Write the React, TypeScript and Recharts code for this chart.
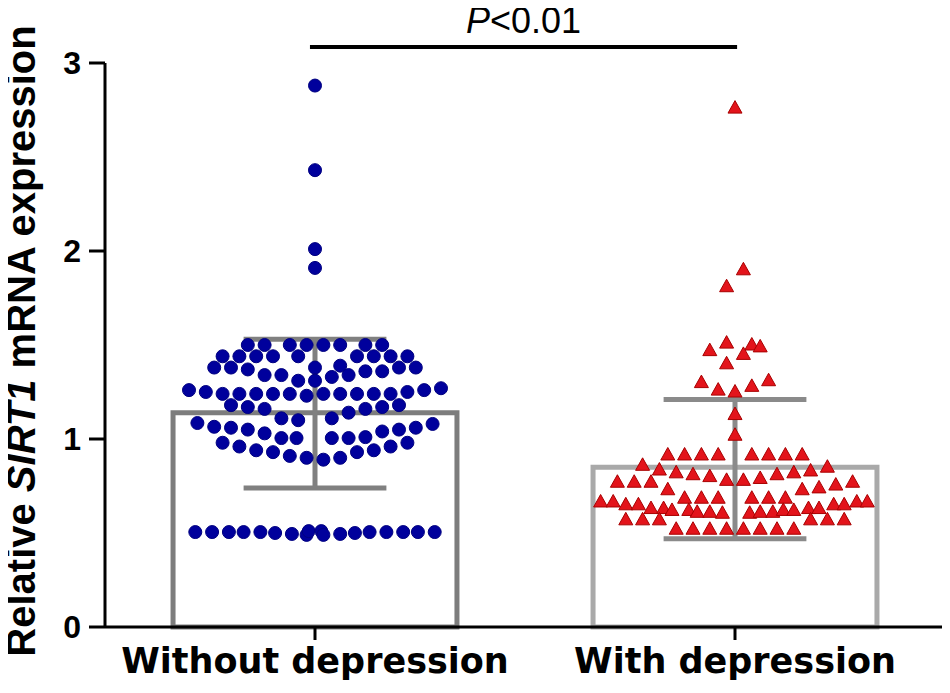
import React from "react";
import {
  ScatterChart,
  Scatter,
  XAxis,
  YAxis,
  ReferenceArea,
  ReferenceLine,
} from "recharts";

// groups on the x axis (centred at 0.5 and 1.5 of a 0..2 axis)
const categories = ["Without depression", "With depression"];
const barMeans = [1.14, 0.85];
const errLow = [0.74, 0.47];
const errHigh = [1.53, 1.21];
const yTicks = [0, 1, 2, 3];
const pText = "P<0.01";

// [horizontal jitter in axis units, relative expression]
const withoutPoints: [number, number][] = [
  [0, 2.88], [0, 2.43], [0, 2.01], [0, 1.91],
  [-0.16, 1.5], [-0.12, 1.5], [-0.06, 1.5], [-0.02, 1.5], [0.02, 1.5], [0.06, 1.5], [0.12, 1.5], [0.16, 1.5],
  [-0.22, 1.44], [-0.18, 1.44], [-0.14, 1.44], [-0.1, 1.44], [-0.04, 1.44], [0.1, 1.44], [0.14, 1.44], [0.18, 1.44], [0.22, 1.44],
  [-0.24, 1.38], [-0.2, 1.38], [-0.16, 1.37], [-0.12, 1.34], [-0.08, 1.34], [-0.04, 1.31], [0, 1.38], [0, 1.31],
  [0.04, 1.33], [0.06, 1.39], [0.08, 1.34], [0.12, 1.36], [0.16, 1.36], [0.2, 1.38], [0.24, 1.38],
  [-0.3, 1.26], [-0.26, 1.25], [-0.22, 1.24], [-0.18, 1.24], [-0.14, 1.24], [-0.1, 1.24], [-0.06, 1.24], [-0.02, 1.23],
  [0.02, 1.24], [0.06, 1.24], [0.1, 1.24], [0.14, 1.24], [0.18, 1.24], [0.22, 1.25], [0.26, 1.26], [0.3, 1.27],
  [-0.2, 1.18], [-0.16, 1.17], [-0.12, 1.16], [-0.08, 1.11], [-0.04, 1.1], [0.04, 1.11], [0.08, 1.14], [0.12, 1.16], [0.16, 1.17], [0.2, 1.18],
  [-0.28, 1.085], [-0.24, 1.065], [-0.2, 1.06], [-0.16, 1.05], [-0.12, 1.03], [-0.08, 1.005], [-0.044, 1.005],
  [0.04, 1.005], [0.08, 1.005], [0.12, 1.01], [0.16, 1.04], [0.2, 1.05], [0.24, 1.06], [0.28, 1.08],
  [-0.22, 0.98], [-0.18, 0.96], [-0.14, 0.94], [-0.1, 0.93], [-0.06, 0.91], [-0.02, 0.9],
  [0.02, 0.89], [0.06, 0.9], [0.1, 0.93], [0.14, 0.94], [0.18, 0.96], [0.22, 0.98],
  [-0.285, 0.505], [-0.245, 0.505], [-0.205, 0.505], [-0.17, 0.505], [-0.13, 0.505], [-0.095, 0.5], [-0.055, 0.495], [-0.02, 0.49],
  [-0.015, 0.51], [0.015, 0.51], [0.02, 0.49], [0.06, 0.495], [0.095, 0.5], [0.13, 0.505], [0.17, 0.505], [0.21, 0.505], [0.245, 0.505], [0.285, 0.505],
];

const withPoints: [number, number][] = [
  [0, 2.76], [0.02, 1.9], [-0.02, 1.81],
  [-0.06, 1.47], [-0.02, 1.51], [0.04, 1.5], [0.06, 1.49], [0.02, 1.45], [-0.02, 1.4],
  [-0.08, 1.3], [0.08, 1.31], [-0.04, 1.26], [0, 1.25], [0.04, 1.28], [0, 1.13], [0, 1.02],
  [-0.16, 0.915], [-0.12, 0.915], [-0.08, 0.915], [-0.04, 0.915], [0.04, 0.915], [0.08, 0.915], [0.12, 0.915], [0.16, 0.915],
  [-0.22, 0.86], [-0.18, 0.835], [-0.14, 0.82], [-0.1, 0.81], [-0.06, 0.8], [-0.02, 0.78],
  [0.02, 0.78], [0.06, 0.79], [0.1, 0.81], [0.14, 0.82], [0.18, 0.83], [0.22, 0.85],
  [-0.28, 0.77], [-0.24, 0.77], [-0.2, 0.77], [-0.16, 0.73], [0.16, 0.73], [0.2, 0.74], [0.24, 0.755], [0.28, 0.77],
  [-0.12, 0.685], [-0.08, 0.685], [-0.04, 0.685], [0.04, 0.685], [0.08, 0.685], [0.12, 0.685],
  [-0.32, 0.665], [-0.29, 0.665], [-0.26, 0.65], [-0.23, 0.65], [-0.2, 0.63], [-0.17, 0.63], [-0.15, 0.62], [-0.11, 0.62], [-0.09, 0.61], [-0.06, 0.61], [-0.03, 0.605],
  [0.035, 0.605], [0.06, 0.61], [0.09, 0.61], [0.115, 0.62], [0.14, 0.62], [0.175, 0.63], [0.2, 0.63], [0.235, 0.65], [0.26, 0.65], [0.29, 0.665], [0.315, 0.665],
  [-0.26, 0.57], [-0.22, 0.57], [-0.18, 0.57], [0.18, 0.57], [0.22, 0.57], [0.26, 0.57],
  [-0.14, 0.52], [-0.1, 0.52], [-0.06, 0.52], [-0.02, 0.52], [0.02, 0.52], [0.06, 0.52], [0.1, 0.52], [0.14, 0.52],
];

const centres = [0.5, 1.5];
const barHalf = 0.338;
const capHalf = 0.17;
const barStroke = ["#7d7d7d", "#a9a9a9"];
const errStroke = ["#808080", "#8a8a8a"];

const withoutData = withoutPoints.map(([dx, y]) => ({ x: centres[0] + dx, y }));
const withData = withPoints.map(([dx, y]) => ({ x: centres[1] + dx, y }));

const Dot = (props: any) => (
  <circle cx={props.cx} cy={props.cy} r={6.5} fill="#00009c" stroke="#000080" strokeWidth={1} />
);

const Tri = (props: any) => {
  const { cx, cy } = props;
  return (
    <path
      d={`M${cx},${cy - 7.5} L${cx + 7},${cy + 5} L${cx - 7},${cy + 5} Z`}
      fill="#e3141b"
      stroke="#a80000"
      strokeWidth={1}
    />
  );
};

// rotated axis title with the gene name in italics
const YLabel = () => (
  <text
    x={35}
    y={341}
    transform="rotate(-90, 35, 341)"
    textAnchor="middle"
    fontFamily="Liberation Sans, Arial, sans-serif"
    fontWeight="bold"
    fontSize={40}
    fill="#000"
  >
    Relative <tspan fontStyle="italic">SIRT1</tspan> mRNA expression
  </text>
);

const PLabel = (props: any) => {
  const vb = props.viewBox || {};
  const cx = vb.x + (vb.width || 0) / 2;
  return (
    <text
      x={cx}
      y={vb.y - 14}
      textAnchor="middle"
      fontFamily="Liberation Sans, Arial, sans-serif"
      fontSize={36}
      fill="#000"
    >
      <tspan fontStyle="italic">{pText.slice(0, 1)}</tspan>
      {pText.slice(1)}
    </text>
  );
};

const App = () => {
  return (
    // cancel the body margin so the chart uses the whole 950x693 window
    <div style={{ margin: -8, width: 950, height: 693, background: "#fff" }}>
      <ScatterChart width={950} height={693} margin={{ top: 63, right: 5, bottom: 6, left: 45 }}>
        <XAxis
          type="number"
          dataKey="x"
          domain={[0, 2]}
          ticks={centres}
          tickFormatter={(v: number) => categories[centres.indexOf(v)] ?? ""}
          allowDataOverflow
          height={60}
          axisLine={{ stroke: "#000", strokeWidth: 3 }}
          tickLine={{ stroke: "#000", strokeWidth: 3 }}
          tickSize={13}
          tickMargin={8}
          tick={{ fill: "#000", fontSize: 35, fontWeight: "bold", fontFamily: "DejaVu Sans, sans-serif" }}
        />
        <YAxis
          type="number"
          dataKey="y"
          domain={[0, 3]}
          ticks={yTicks}
          allowDataOverflow
          width={60}
          axisLine={{ stroke: "#000", strokeWidth: 3 }}
          tickLine={{ stroke: "#000", strokeWidth: 3 }}
          tickSize={16}
          tickMargin={8}
          tick={{ fill: "#000", fontSize: 32, fontWeight: "bold", fontFamily: "Liberation Sans, Arial, sans-serif" }}
          label={{ content: YLabel }}
        />
        {centres.map((c, i) => (
          <ReferenceArea
            key={`bar-${i}`}
            x1={c - barHalf}
            x2={c + barHalf}
            y1={0}
            y2={barMeans[i]}
            fill="#fff"
            fillOpacity={1}
            stroke={barStroke[i]}
            strokeWidth={5}
            ifOverflow="visible"
          />
        ))}
        <Scatter data={withoutData} shape={Dot} isAnimationActive={false} />
        <Scatter data={withData} shape={Tri} isAnimationActive={false} />
        {centres.map((c, i) => (
          <ReferenceLine
            key={`ev-${i}`}
            segment={[{ x: c, y: errLow[i] }, { x: c, y: errHigh[i] }]}
            stroke={errStroke[i]}
            strokeWidth={5}
          />
        ))}
        {centres.map((c, i) => (
          <ReferenceLine
            key={`et-${i}`}
            segment={[{ x: c - capHalf, y: errHigh[i] }, { x: c + capHalf, y: errHigh[i] }]}
            stroke={errStroke[i]}
            strokeWidth={5}
          />
        ))}
        {centres.map((c, i) => (
          <ReferenceLine
            key={`eb-${i}`}
            segment={[{ x: c - capHalf, y: errLow[i] }, { x: c + capHalf, y: errLow[i] }]}
            stroke={errStroke[i]}
            strokeWidth={5}
          />
        ))}
        <ReferenceLine
          segment={[{ x: 0.488, y: 3.085 }, { x: 1.505, y: 3.085 }]}
          stroke="#000"
          strokeWidth={4}
          ifOverflow="visible"
          label={{ content: PLabel }}
        />
      </ScatterChart>
    </div>
  );
};

export default App;
